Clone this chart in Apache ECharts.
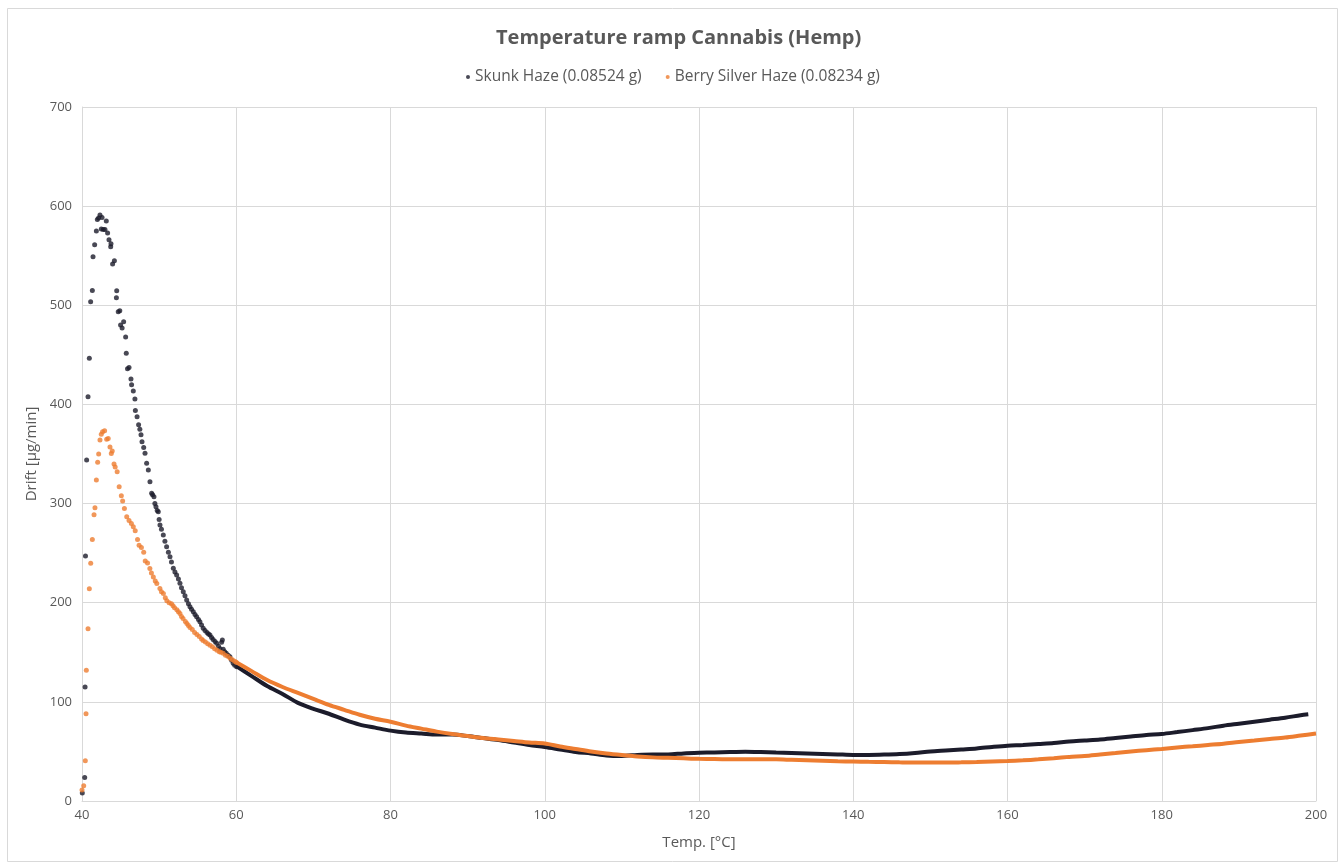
<!DOCTYPE html>
<html>
<head>
<meta charset="utf-8">
<script src="https://cdn.jsdelivr.net/npm/echarts@6/dist/echarts.min.js"></script>
<style>html,body{margin:0;padding:0;background:#fff}#c{width:1340px;height:865px}</style>
</head>
<body>
<div id="c"></div>
<script>
// Skunk Haze: early sparse points (Temp °C, Drift µg/min)
const skunkEarlyT = [40.04,40.35,40.40,40.45,40.60,40.78,40.95,41.12,41.34,41.43,41.64,41.86,41.99,42.15,42.33,42.50,42.60,42.76,42.98,43.15,43.32,43.50,43.72,43.76,43.97,44.20,44.46,44.50,44.70,44.90,45.00,45.20,45.40,45.66,45.74,45.90,46.10,46.35,46.43,46.65,46.86,46.92,47.14,47.34,47.50,47.65,47.78,48.00,48.17,48.38,48.60,48.81,49.03,49.15,49.33,49.45,49.59,49.75,49.89,50.00,50.11,50.30,50.54,50.75,50.97,51.20,51.41,51.60,51.84,52.05,52.27,52.50,52.70,52.90,53.13,53.35,53.57,53.80,54.00,54.20,54.43,54.65,54.86,55.10,55.29,55.50,55.72,55.95,56.20,56.40,56.59,56.80,57.00,57.25,57.46,57.70,57.90,58.10,58.20,58.31,58.50,58.70,58.95,59.18,59.40,59.60,59.80,60.05];
const skunkEarlyV = [8,23.7,115,247,344,407.7,446.5,503.6,515,549,561,575,586.5,588,591,577,588.5,576.5,576.5,585,573,566,559,562,541.6,545,507.5,514.6,493.5,494.4,480,477,483.4,468,451.5,436,437.3,425.6,419.8,413.6,405.5,394,387.5,379.4,375,369.5,362.4,356.6,350.7,340.6,333.9,322.1,310.4,309,307,300,296.9,293,291.8,284,278.4,274,268.3,262,256.5,251,246.4,241,234.7,231,228,224,219.6,215,211.1,207,202.7,199,196,193.5,191,188,185.9,183,180.9,177.5,174.2,172,170,168.5,167.4,165,163,161,159,156,153.5,160,162.4,153,150.5,149,147,145.6,142,139,137,135.5];
// Berry Silver Haze: early sparse points
const berryEarlyT = [40.00,40.22,40.43,40.52,40.56,40.78,40.95,41.13,41.34,41.56,41.68,41.86,42.03,42.16,42.33,42.50,42.67,42.93,43.20,43.40,43.63,43.80,43.92,44.15,44.30,44.56,44.82,45.10,45.27,45.50,45.80,46.10,46.40,46.65,46.90,47.20,47.40,47.70,48.00,48.20,48.50,48.80,49.00,49.25,49.50,49.70,50.10,50.30,50.55,50.80,51.00,51.30,51.60,51.80,52.00,52.30,52.50,52.70,52.90,53.10,53.40,53.60,53.80,54.00,54.30,54.60,54.90,55.20,55.50,55.70,56.00,56.30,56.60,56.90,57.20,57.50,57.80,58.00,58.30,58.60,58.90,59.20,59.50,59.80,60.00];
const berryEarlyV = [11,15.4,40.6,88,132,173.8,214,239.7,263.8,288.8,295.8,323.8,341.6,350,364,370,372.5,373.5,364.8,365.6,357,350.5,353,340,337,332,317,308,302.5,295,286.6,283,280,276.5,272.5,263.8,258,255.7,251,242,240,234.5,230,226,222,219.4,214.3,211,209.3,205,202,200,199,197,195,193,191,189,186,184,181,179,177,175,173,170,168,166,163.5,162,160.5,158.5,157,155.5,153.5,152,150.5,150,149,147,146,144,142.5,141,140];
// Dense tails (every 2 °C)
const tailT = [60,62,64,66,68,70,72,74,76,78,80,82,84,86,88,90,92,94,96,98,100,102,104,106,108,110,112,114,116,118,120,122,124,126,128,130,132,134,136,138,140,142,144,146,148,150,152,154,156,158,160,162,164,166,168,170,172,174,176,178,180,182,184,186,188,190,192,194,196,198,199];
const skunkTailV = [136,126,116,108,99,93,88,82,77,74,71,69,68,67,67,65.5,63.5,61.5,59,56.5,54.5,52,49.5,48,46,45.5,46.5,47,47,48,48.6,49,49.5,49.8,49.5,49,48.5,48,47.5,47,46.5,46.5,46.8,47.4,48.5,50,51,52,53,54.5,55.8,56.5,57.5,58.5,60,61,62,63.5,65,66.5,67.6,69.5,71.5,73.5,76,78,80,82,84,86.5,87.5];
const berryTailT = [60,62,64,66,68,70,72,74,76,78,80,82,84,86,88,90,92,94,96,98,100,102,104,106,108,110,112,114,116,118,120,122,124,126,128,130,132,134,136,138,140,142,144,146,148,150,152,154,156,158,160,162,164,166,168,170,172,174,176,178,180,182,184,186,188,190,192,194,196,198,200];
const berryTailV = [140,131,122,115,109,103,97,92,87,83,80,76,73,70,67.5,65.5,63.5,62,60.5,59,58,55,52.5,50,48,46.4,45,44,43.5,43,42.5,42.3,42.2,42.2,42,42,41.5,41,40.5,40,39.8,39.5,39.3,39,38.8,38.8,38.8,39,39.3,39.8,40.3,41,42,43.2,44.5,45.5,47,48.5,50,51.3,52.5,54,55.2,56.5,57.8,59.5,61,62.5,64,66,68];
const yTicks = [0,100,200,300,400,500,600,700];
const xTicks = [40,60,80,100,120,140,160,180,200];

const SK = 'Skunk Haze (0.08524 g)';
const BE = 'Berry Silver Haze (0.08234 g)';
const cSK = '#1c1c2b', cBE = '#ed7d31';
const zip = (a, b) => a.map((t, i) => [t, b[i]]);
const font = '"Open Sans", "Liberation Sans", sans-serif';
const grey = '#595959';

const chart = echarts.init(document.getElementById('c'), null, {renderer: 'canvas'});
chart.setOption({
  animation: false,
  backgroundColor: '#fff',
  textStyle: {fontFamily: font},
  graphic: [{type: 'rect', shape: {x: 7.5, y: 8.5, width: 1330, height: 853}, style: {fill: 'none', stroke: '#d9d9d9', lineWidth: 1}, silent: true, z: -1}],
  title: {text: 'Temperature ramp Cannabis (Hemp)', left: 491, top: 23, textStyle: {fontFamily: font, fontSize: 20, fontWeight: 'bold', color: grey}},
  legend: {top: 64, left: 461, icon: 'circle', itemWidth: 4, itemHeight: 4, itemGap: 24, data: [SK, BE], textStyle: {fontFamily: font, fontSize: 15.5, color: grey}},
  grid: {left: 82, right: 24, top: 107, bottom: 64, containLabel: false},
  xAxis: {type: 'value', min: 40, max: 200, interval: 20, name: 'Temp. [°C]', nameLocation: 'middle', nameGap: 34,
    nameTextStyle: {fontFamily: font, fontSize: 15, color: grey},
    axisLine: {show: true, lineStyle: {color: '#d9d9d9'}}, axisTick: {show: false},
    axisLabel: {color: grey, fontSize: 13, margin: 8, fontFamily: font, formatter: v => xTicks.includes(v) ? String(v) : ''},
    splitLine: {show: true, lineStyle: {color: '#d9d9d9'}}},
  yAxis: {type: 'value', min: 0, max: 700, interval: 100, name: 'Drift [µg/min]', nameLocation: 'middle', nameGap: 38,
    nameTextStyle: {fontFamily: font, fontSize: 15, color: grey},
    axisLine: {show: true, lineStyle: {color: '#d9d9d9'}}, axisTick: {show: false},
    axisLabel: {color: grey, fontSize: 13, margin: 10, fontFamily: font, formatter: v => yTicks.includes(v) ? String(v) : ''},
    splitLine: {show: true, lineStyle: {color: '#d9d9d9'}}},
  series: [
    {name: SK, type: 'scatter', data: zip(skunkEarlyT, skunkEarlyV), symbolSize: 5, itemStyle: {color: cSK}},
    {name: SK, type: 'line', data: zip(tailT, skunkTailV), showSymbol: false, smooth: 0.3, lineStyle: {color: cSK, width: 4}, itemStyle: {color: cSK}},
    {name: BE, type: 'scatter', data: zip(berryEarlyT, berryEarlyV), symbolSize: 5, itemStyle: {color: cBE}},
    {name: BE, type: 'line', data: zip(berryTailT, berryTailV), showSymbol: false, smooth: 0.3, lineStyle: {color: cBE, width: 4}, itemStyle: {color: cBE}}
  ]
});
</script>
</body>
</html>
